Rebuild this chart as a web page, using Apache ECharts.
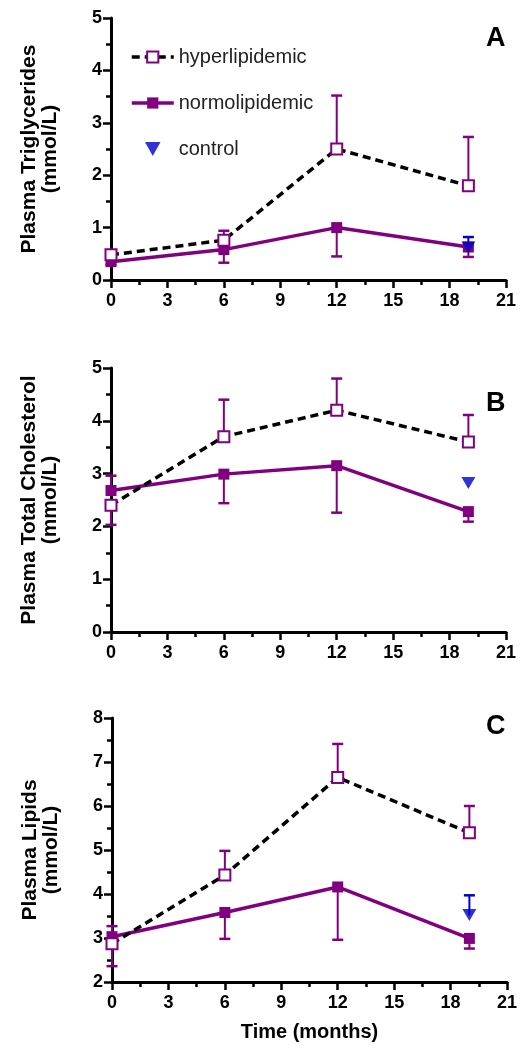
<!DOCTYPE html>
<html>
<head>
<meta charset="utf-8">
<script src="https://cdn.jsdelivr.net/npm/echarts@6/dist/echarts.min.js"></script>
<style>
html,body{margin:0;padding:0;background:#fff;}
#chart{width:521px;height:1050px;}
</style>
</head>
<body>
<div id="chart"></div>
<script>
// ---- data ----
const months = [0, 6, 12, 19];
const controlMonth = [19];
const panelLetters = ['A', 'B', 'C'];
const yTitles = ['Plasma Triglycerides\n(mmol/L)', 'Plasma Total Cholesterol\n(mmol/L)', 'Plasma Lipids\n(mmol/L)'];
const yMins = [0, 0, 2];
const yMaxs = [5, 5, 8];
const xTitle = 'Time (months)';
const seriesNames = ['hyperlipidemic', 'normolipidemic', 'control'];

// Panel A: triglycerides
const hyperTG = [0.48, 0.76, 2.50, 1.80];
const hyperTGErrEnd = [0.55, 0.94, 3.52, 2.73];
const normoTG = [0.35, 0.58, 1.00, 0.63];
const normoTGErrEnd = [0.29, 0.33, 0.45, 0.44];
const controlTG = [0.62];
const controlTGErrEnd = [0.82];

// Panel B: total cholesterol
const hyperTC = [2.40, 3.70, 4.20, 3.60];
const hyperTCErrEnd = [2.03, 4.40, 4.80, 4.11];
const normoTC = [2.68, 2.99, 3.15, 2.28];
const normoTCErrEnd = [2.96, 2.44, 2.26, 2.09];
const controlTC = [2.82];
const controlTCErrEnd = [null];

// Panel C: lipids
const hyperPL = [2.87, 4.43, 6.65, 5.39];
const hyperPLErrEnd = [2.36, 4.98, 7.41, 6.00];
const normoPL = [3.03, 3.58, 4.16, 2.99];
const normoPLErrEnd = [3.27, 2.98, 2.96, 2.76];
const controlPL = [3.52];
const controlPLErrEnd = [3.97];

const panels = [
  {hyper: hyperTG, hyperErr: hyperTGErrEnd, normo: normoTG, normoErr: normoTGErrEnd, ctrl: controlTG, ctrlErr: controlTGErrEnd},
  {hyper: hyperTC, hyperErr: hyperTCErrEnd, normo: normoTC, normoErr: normoTCErrEnd, ctrl: controlTC, ctrlErr: controlTCErrEnd},
  {hyper: hyperPL, hyperErr: hyperPLErrEnd, normo: normoPL, normoErr: normoPLErrEnd, ctrl: controlPL, ctrlErr: controlPLErrEnd}
];

// ---- style ----
const PURPLE = '#800080';
const BLUE = '#0000c8';
const FONT = '"Liberation Sans", Arial, Helvetica, sans-serif';
const downTri = 'path://M0,0 L10,0 L5,9 Z';
const gridBoxes = [
  {left: 111, top: 18, width: 395, height: 262},
  {left: 111, top: 368, width: 395, height: 264},
  {left: 112, top: 718, width: 395, height: 264}
];
const letterTops = [20, 385, 708];

function errData(xs, means, ends) {
  const out = [];
  xs.forEach((x, i) => { if (ends[i] != null) out.push([x, means[i], ends[i]]); });
  return out;
}
function errSeries(idx, data, color) {
  return {
    type: 'custom', xAxisIndex: idx, yAxisIndex: idx, z: 1, silent: true,
    data: data,
    renderItem: function (params, api) {
      const p0 = api.coord([api.value(0), api.value(1)]);
      const p1 = api.coord([api.value(0), api.value(2)]);
      const hw = 5.5;
      return {
        type: 'group',
        children: [
          {type: 'line', shape: {x1: p0[0], y1: p0[1], x2: p1[0], y2: p1[1]}, style: {stroke: color, lineWidth: 2}},
          {type: 'line', shape: {x1: p1[0] - hw, y1: p1[1], x2: p1[0] + hw, y2: p1[1]}, style: {stroke: color, lineWidth: 2.5}}
        ]
      };
    }
  };
}

const grids = [], xAxes = [], yAxes = [], series = [], titles = [];
panels.forEach((p, i) => {
  grids.push(gridBoxes[i]);
  xAxes.push({
    type: 'value', gridIndex: i, min: 0, max: 21, interval: 3,
    name: i === 2 ? xTitle : '', nameLocation: 'middle', nameGap: 40,
    nameTextStyle: {fontFamily: FONT, fontWeight: 'bold', fontSize: 20, color: '#000'},
    axisLine: {show: true, onZero: false, lineStyle: {color: '#000', width: 3}},
    axisTick: {show: true, length: 8, lineStyle: {color: '#000', width: 2.5}},
    minorTick: {show: true, splitNumber: 2, length: 5, lineStyle: {color: '#000', width: 2.5}},
    splitLine: {show: false}, minorSplitLine: {show: false},
    axisLabel: {fontFamily: FONT, fontWeight: 'bold', fontSize: 18, color: '#000', margin: 12}
  });
  yAxes.push({
    type: 'value', gridIndex: i, min: yMins[i], max: yMaxs[i], interval: 1,
    name: yTitles[i], nameLocation: 'middle', nameRotate: 90, nameGap: 50,
    nameTextStyle: {fontFamily: FONT, fontWeight: 'bold', fontSize: 21, color: '#000', lineHeight: 21},
    axisLine: {show: true, onZero: false, lineStyle: {color: '#000', width: 3}},
    axisTick: {show: true, length: 8, lineStyle: {color: '#000', width: 2.5}},
    minorTick: {show: true, splitNumber: 2, length: 5, lineStyle: {color: '#000', width: 2.5}},
    splitLine: {show: false}, minorSplitLine: {show: false},
    axisLabel: {fontFamily: FONT, fontWeight: 'bold', fontSize: 18, color: '#000', margin: 9}
  });
  titles.push({
    text: panelLetters[i], left: 481, top: letterTops[i],
    textStyle: {fontFamily: FONT, fontWeight: 'bold', fontSize: 27, color: '#000'}
  });
  series.push(errSeries(i, errData(months, p.normo, p.normoErr), PURPLE));
  series.push(errSeries(i, errData(months, p.hyper, p.hyperErr), PURPLE));
  series.push(errSeries(i, errData(controlMonth, p.ctrl, p.ctrlErr), BLUE));
  series.push({
    name: seriesNames[1], type: 'line', xAxisIndex: i, yAxisIndex: i, z: 3,
    data: months.map((m, k) => [m, p.normo[k]]),
    symbol: 'rect', symbolSize: 11,
    lineStyle: {color: PURPLE, width: 3.5},
    itemStyle: {color: PURPLE, borderColor: PURPLE, borderWidth: 0},
    animation: false
  });
  series.push({
    name: seriesNames[0], type: 'line', xAxisIndex: i, yAxisIndex: i, z: 4,
    data: months.map((m, k) => [m, p.hyper[k]]),
    symbol: 'rect', symbolSize: 11,
    lineStyle: {color: '#000', width: 3.5, type: [8, 5]},
    itemStyle: {color: '#fff', borderColor: PURPLE, borderWidth: 2},
    animation: false
  });
  series.push({
    name: seriesNames[2], type: 'scatter', xAxisIndex: i, yAxisIndex: i, z: 5,
    data: controlMonth.map((m, k) => [m, p.ctrl[k]]),
    symbol: downTri, symbolSize: [14, 12],
    itemStyle: {color: BLUE},
    animation: false
  });
});

const chart = echarts.init(document.getElementById('chart'), null, {renderer: 'canvas'});
chart.setOption({
  animation: false,
  backgroundColor: '#fff',
  title: titles,
  legend: {
    data: seriesNames, orient: 'vertical', left: 130, top: 47, padding: 0, itemGap: 26,
    itemWidth: 42, itemHeight: 14,
    lineStyle: {width: 3.5},
    textStyle: {fontFamily: FONT, fontSize: 20, color: '#222'}
  },
  grid: grids, xAxis: xAxes, yAxis: yAxes, series: series
});
</script>
</body>
</html>
